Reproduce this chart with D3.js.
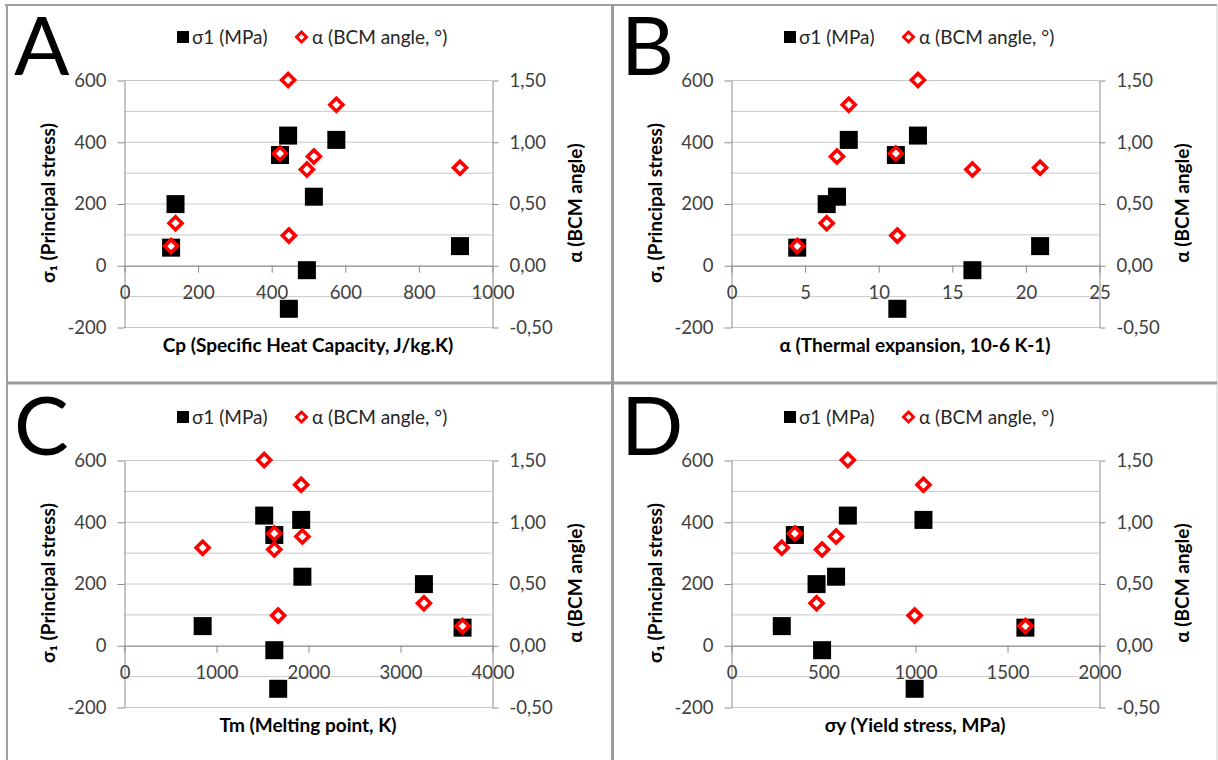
<!DOCTYPE html>
<html>
<head>
<meta charset="utf-8">
<script src="https://cdn.jsdelivr.net/npm/d3@7"></script>
<style>
  body { margin: 0; background: #fff; }
  text { font-family: Lato, "Open Sans", sans-serif; }
</style>
</head>
<body>
<div id="chart"></div>
<script>
// one entry per material, same order in every array
var cp = [128, 140, 424, 446, 577, 516, 497, 448, 913];
var thermalExp = [4.5, 6.5, 11.2, 12.7, 8.0, 7.2, 16.4, 11.3, 21.0];
var meltingPoint = [3680, 3260, 1634, 1524, 1926, 1939, 1634, 1676, 855];
var yieldStress = [1600, 465, 347, 635, 1046, 571, 495, 998, 276];
var sigma1 = [57, 198, 357, 420, 406, 222, -16, -141, 62];
var bcmAngle = [0.155, 0.34, 0.905, 1.5, 1.3, 0.88, 0.775, 0.24, 0.79];

var sigmaTicks = [-200, 0, 200, 400, 600];
var angleTicks = [-0.5, 0, 0.5, 1, 1.5];
var gridValues = [-200, -100, 0, 100, 200, 300, 400, 500, 600];

var panelLetters = ["A", "B", "C", "D"];
var panelXValues = [cp, thermalExp, meltingPoint, yieldStress];
var panelXMax = [1000, 25, 4000, 2000];
var panelXTicks = [[0, 200, 400, 600, 800, 1000], [0, 5, 10, 15, 20, 25],
                   [0, 1000, 2000, 3000, 4000], [0, 500, 1000, 1500, 2000]];
var panelXTitles = ["Cp (Specific Heat Capacity, J/kg.K)",
                    "α (Thermal expansion, 10-6 K-1)",
                    "Tm (Melting point, K)",
                    "σy (Yield stress, MPa)"];

var legendLabels = ["σ1 (MPa)", "α (BCM angle, °)"];

function init(){
    var w = 1218;
    var h = 760;

    var locale = d3.formatLocale({decimal: ",", thousands: ".", grouping: [3], currency: ["", ""], minus: "-"});
    var fmtLeft = locale.format("d");
    var fmtRight = locale.format(".2f");

    var svg = d3.select("#chart")
                .append("svg")
                .attr("width", w)
                .attr("height", h);

    // panel frame
    svg.append("line").attr("x1", 5).attr("x2", 1217).attr("y1", 5).attr("y2", 5)
        .style("stroke", "#a0a0a0").style("stroke-width", 2);
    svg.append("line").attr("x1", 7).attr("x2", 7).attr("y1", 5).attr("y2", 760)
        .style("stroke", "#a0a0a0").style("stroke-width", 2);
    svg.append("line").attr("x1", 1217).attr("x2", 1217).attr("y1", 5).attr("y2", 760)
        .style("stroke", "#d0d0d0").style("stroke-width", 1);
    svg.append("line").attr("x1", 612.5).attr("x2", 612.5).attr("y1", 5).attr("y2", 760)
        .style("stroke", "#9a9a9a").style("stroke-width", 3);
    svg.append("line").attr("x1", 7).attr("x2", 1217).attr("y1", 383).attr("y2", 383)
        .style("stroke", "#9a9a9a").style("stroke-width", 3);

    var offsets = [[0, 0], [607, 0], [0, 380], [607, 380]];

    for(var p = 0; p < 4; p++){
        drawPanel(p);
    }

    function diamond(r){
        return "M0," + (-r) + "L" + r + ",0L0," + r + "L" + (-r) + ",0Z";
    }

    function drawPanel(p){
        var g = svg.append("g")
                   .attr("transform", "translate(" + offsets[p][0] + "," + offsets[p][1] + ")");

        var x = d3.scaleLinear().domain([0, panelXMax[p]]).range([124, 492]);
        var y = d3.scaleLinear().domain([-200, 600]).range([327, 80]);
        var y2 = d3.scaleLinear().domain([-0.5, 1.5]).range([327, 80]);

        // gridlines
        g.selectAll("line.grid")
            .data(gridValues)
            .enter()
            .append("line")
            .attr("class", "grid")
            .attr("x1", 124)
            .attr("x2", 492)
            .attr("y1", function(d){ return y(d) + 0.5; })
            .attr("y2", function(d){ return y(d) + 0.5; })
            .style("stroke", "#c8c8c8")
            .style("stroke-width", 1);

        // left axis
        var left = g.append("g")
            .attr("transform", "translate(124.5,0.5)")
            .call(d3.axisLeft(y).tickValues(sigmaTicks).tickFormat(fmtLeft)
                    .tickSize(7).tickSizeOuter(0).tickPadding(11));
        // right axis
        var right = g.append("g")
            .attr("transform", "translate(492.5,0.5)")
            .call(d3.axisRight(y2).tickValues(angleTicks).tickFormat(fmtRight)
                    .tickSize(6).tickSizeOuter(0).tickPadding(11));
        // x axis at zero
        var bottom = g.append("g")
            .attr("transform", "translate(0.5," + (y(0) + 0.5) + ")")
            .call(d3.axisBottom(x).tickValues(panelXTicks[p]).tickFormat(fmtLeft)
                    .tickSize(7).tickSizeOuter(0).tickPadding(13));

        [left, right, bottom].forEach(function(a){
            a.selectAll("path.domain").style("stroke", "#8c8c8c").style("stroke-width", 1);
            a.selectAll(".tick line").style("stroke", "#8c8c8c");
            a.selectAll(".tick text")
                .style("font-family", "Lato, 'Open Sans', sans-serif")
                .style("font-size", "18.5px")
                .style("fill", "#404040");
        });

        // sigma1 squares
        var xs = panelXValues[p];
        g.selectAll("rect.s1")
            .data(sigma1)
            .enter()
            .append("rect")
            .attr("class", "s1")
            .attr("x", function(d, i){ return x(xs[i]) - 9; })
            .attr("y", function(d){ return y(d) - 9; })
            .attr("width", 18)
            .attr("height", 18)
            .style("fill", "#000");

        // BCM angle diamonds
        g.selectAll("path.ang")
            .data(bcmAngle)
            .enter()
            .append("path")
            .attr("class", "ang")
            .attr("d", diamond(6.5))
            .attr("transform", function(d, i){
                return "translate(" + x(xs[i]) + "," + y2(d) + ")";
            })
            .style("fill", "#fff")
            .style("stroke", "#ff0000")
            .style("stroke-width", 3.6);

        // panel letter
        g.append("text")
            .attr("x", 14)
            .attr("y", 75)
            .style("font-family", "Lato, 'Open Sans', sans-serif")
            .style("font-size", "82px")
            .style("fill", "#000")
            .text(panelLetters[p]);

        // legend
        g.append("rect")
            .attr("x", 177).attr("y", 31)
            .attr("width", 12).attr("height", 12)
            .style("fill", "#000");
        g.append("text")
            .attr("x", 192).attr("y", 44)
            .style("font-size", "19px")
            .style("fill", "#262626")
            .text(legendLabels[0]);
        g.append("path")
            .attr("d", diamond(5))
            .attr("transform", "translate(301.5,37)")
            .style("fill", "#fff")
            .style("stroke", "#ff0000")
            .style("stroke-width", 3);
        g.append("text")
            .attr("x", 312).attr("y", 44)
            .style("font-size", "19px")
            .style("fill", "#262626")
            .text(legendLabels[1]);

        // axis titles
        g.append("text")
            .attr("transform", "translate(55,203) rotate(-90)")
            .attr("text-anchor", "middle")
            .style("font-size", "19px")
            .style("font-weight", "bold")
            .text("σ₁ (Principal stress)");
        g.append("text")
            .attr("transform", "translate(582,203) rotate(-90)")
            .attr("text-anchor", "middle")
            .style("font-size", "19px")
            .style("font-weight", "bold")
            .text("α (BCM angle)");
        g.append("text")
            .attr("x", 308)
            .attr("y", 352)
            .attr("text-anchor", "middle")
            .style("font-size", "19px")
            .style("font-weight", "bold")
            .text(panelXTitles[p]);
    }
}
window.onload = init;
</script>
</body>
</html>
